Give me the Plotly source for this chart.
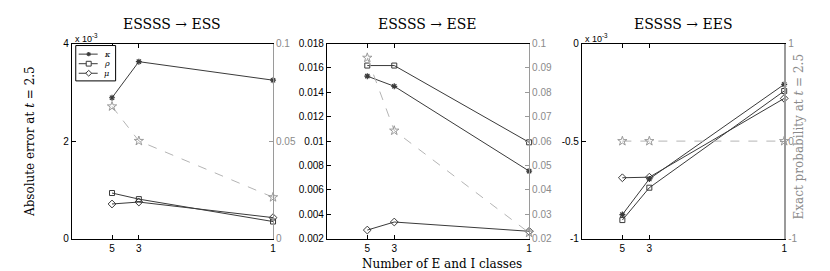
import plotly.graph_objects as go

# ---------------- data ----------------
n_classes = [5, 3, 1]
tick_labels = ["5", "3", "1"]

titles = ["ESSSS → ESS", "ESSSS → ESE", "ESSSS → EES"]
series_names = ["κ", "ρ", "μ"]

kappa_ess = [2.89e-3, 3.63e-3, 3.25e-3]
rho_ess = [0.935e-3, 0.81e-3, 0.35e-3]
mu_ess = [0.71e-3, 0.75e-3, 0.43e-3]
exact_ess = [0.0678, 0.0501, 0.0212]

kappa_ese = [0.01533, 0.0145, 0.00754]
rho_ese = [0.0162, 0.0162, 0.0099]
mu_ese = [0.0027, 0.00336, 0.0026]
exact_ese = [0.0942, 0.0643, 0.0224]

kappa_ees = [-0.877e-3, -0.694e-3, -0.209e-3]
rho_ees = [-0.905e-3, -0.739e-3, -0.243e-3]
mu_ees = [-0.688e-3, -0.685e-3, -0.281e-3]
exact_ees = [0.0, 0.0, 0.0]

# axis settings per panel
left_ranges = [[0, 0.004], [0.002, 0.018], [-0.001, 0.0]]
left_tickvals = [[0, 0.002, 0.004],
                 [0.002, 0.004, 0.006, 0.008, 0.010, 0.012, 0.014, 0.016, 0.018],
                 [-0.001, -0.0005, 0.0]]
left_ticktext = [["0", "2", "4"],
                 ["0.002", "0.004", "0.006", "0.008", "0.01", "0.012", "0.014", "0.016", "0.018"],
                 ["-1", "-0.5", "0"]]
right_ranges = [[0, 0.1], [0.02, 0.1], [-1, 1]]
right_tickvals = [[0, 0.05, 0.1],
                  [0.02, 0.03, 0.04, 0.05, 0.06, 0.07, 0.08, 0.09, 0.1],
                  [-1, 0, 1]]
right_ticktext = [["0", "0.05", "0.1"],
                  ["0.02", "0.03", "0.04", "0.05", "0.06", "0.07", "0.08", "0.09", "0.1"],
                  ["-1", "0", "1"]]

panels = [
    (kappa_ess, rho_ess, mu_ess, exact_ess),
    (kappa_ese, rho_ese, mu_ese, exact_ese),
    (kappa_ees, rho_ees, mu_ees, exact_ees),
]

# ---------------- geometry ----------------
W, H = 830, 271
x_px = [(64, 266), (320, 523), (576, 779)]
y_top, y_bot = 31, 235
ydom = [(H - y_bot) / H, (H - y_top) / H]


def px(x):
    return x / W


def py(y):
    return 1 - y / H


xvals = [1.0 / n for n in n_classes]

LINE = "#3a3a3a"
GRAY = "#9a9a9a"
TICKFONT = dict(family="Liberation Sans, Arial, sans-serif", size=10, color="black")
GTICKFONT = dict(family="Liberation Sans, Arial, sans-serif", size=10, color="#8a8a8a")
SERIF = "DejaVu Serif, Liberation Serif, serif"

fig = go.Figure()
layout = dict(width=W, height=H, autosize=False,
              margin=dict(l=0, r=0, t=0, b=0),
              paper_bgcolor="white", plot_bgcolor="white",
              showlegend=False)

series_style = [
    dict(symbol="asterisk-open", size=5, color=LINE, line=dict(color=LINE, width=1.2)),
    dict(symbol="square-open", size=5, color=LINE, line=dict(color=LINE, width=1)),
    dict(symbol="diamond-open", size=6, color=LINE, line=dict(color=LINE, width=1)),
]

annotations = []
shapes = []
for i, (kap, rho, mu, exact) in enumerate(panels):
    xi = "x" if i == 0 else f"x{i+1}"
    yl = "y" if i == 0 else f"y{2*i+1}"
    yr = f"y{2*i+2}"
    xkey = "xaxis" if i == 0 else f"xaxis{i+1}"
    ylkey = "yaxis" if i == 0 else f"yaxis{2*i+1}"
    yrkey = f"yaxis{2*i+2}"

    # exact probability on right axis (drawn first, behind)
    fig.add_trace(go.Scatter(
        x=xvals, y=exact, xaxis=xi, yaxis=yr, mode="lines+markers",
        line=dict(color="#b4b4b4", width=1, dash="dash"),
        marker=dict(symbol="star-open", size=7, color=GRAY, line=dict(color=GRAY, width=1)),
        showlegend=False, cliponaxis=False, hoverinfo="skip"))

    for name, mk, vals in zip(series_names, series_style, (kap, rho, mu)):
        fig.add_trace(go.Scatter(
            x=xvals, y=vals, xaxis=xi, yaxis=yl, mode="lines+markers",
            name=name, line=dict(color=LINE, width=1),
            marker=mk, showlegend=False, cliponaxis=False))

    x0, x1 = x_px[i]
    layout[xkey] = dict(
        domain=[px(x0), px(x1)], anchor=yl, range=[0, 1],
        tickvals=xvals, ticktext=tick_labels, ticks="inside", ticklen=4,
        tickcolor="black", showline=True, linecolor="black", linewidth=1,
        mirror="ticks", showgrid=False, zeroline=False, tickfont=TICKFONT)
    layout[ylkey] = dict(
        domain=ydom, anchor=xi, range=left_ranges[i],
        tickvals=left_tickvals[i], ticktext=left_ticktext[i],
        ticks="inside", ticklen=4, tickcolor="black",
        showline=True, linecolor="black", linewidth=1,
        showgrid=False, zeroline=False, tickfont=TICKFONT)
    layout[yrkey] = dict(
        overlaying=yl, anchor=xi, side="right", range=right_ranges[i],
        tickvals=right_tickvals[i], ticktext=right_ticktext[i],
        ticks="inside", ticklen=4, tickcolor=GRAY,
        showline=True, linecolor=GRAY, linewidth=(2 if i == 2 else 1),
        showgrid=False, zeroline=False, tickfont=GTICKFONT)

    # panel title
    annotations.append(dict(
        text=titles[i], x=px((x0 + x1) / 2), y=py(10), xref="paper", yref="paper",
        xanchor="center", yanchor="middle", showarrow=False,
        font=dict(family=SERIF, size=14, color="black")))

# exponent labels
for xp in (65, 577):
    annotations.append(dict(
        text="x 10<sup>-3</sup>", x=px(xp), y=py(25), xref="paper", yref="paper",
        xanchor="left", yanchor="middle", showarrow=False,
        font=dict(family="Liberation Sans, Arial, sans-serif", size=9, color="black")))

# axis titles
annotations.append(dict(
    text="Absolute error at <i>t</i> = 2.5", x=px(22), y=py(133),
    xref="paper", yref="paper", xanchor="center", yanchor="middle",
    textangle=-90, showarrow=False, font=dict(family=SERIF, size=12, color="black")))
annotations.append(dict(
    text="Exact probability at <i>t</i> = 2.5", x=px(794), y=py(128),
    xref="paper", yref="paper", xanchor="center", yanchor="middle",
    textangle=-90, showarrow=False, font=dict(family=SERIF, size=12, color="#8a8a8a")))
annotations.append(dict(
    text="Number of E and I classes", x=px(436), y=py(262),
    xref="paper", yref="paper", xanchor="center", yanchor="middle",
    showarrow=False, font=dict(family=SERIF, size=12, color="black")))

# ---------------- legend (drawn as decoration in panel 1) ----------------
LBOX = (68, 33, 108, 70)
shapes.append(dict(type="rect", xref="paper", yref="paper",
                   x0=px(LBOX[0]), x1=px(LBOX[2]), y0=py(LBOX[3]), y1=py(LBOX[1]),
                   line=dict(color="black", width=1), fillcolor="white", layer="above"))
rows = [42, 52, 62]
cx = 81
for k, (name, ry) in enumerate(zip(series_names, rows)):
    shapes.append(dict(type="line", xref="paper", yref="paper",
                       x0=px(71), x1=px(90), y0=py(ry), y1=py(ry),
                       line=dict(color=LINE, width=1), layer="above"))
    if k == 0:
        for dx, dy in ((2.2, 0), (0, 2.2), (1.6, 1.6), (1.6, -1.6)):
            shapes.append(dict(type="line", xref="paper", yref="paper",
                               x0=px(cx - dx), x1=px(cx + dx), y0=py(ry - dy), y1=py(ry + dy),
                               line=dict(color=LINE, width=1.2), layer="above"))
    elif k == 1:
        shapes.append(dict(type="rect", xref="paper", yref="paper",
                           x0=px(cx - 2.5), x1=px(cx + 2.5), y0=py(ry + 2.5), y1=py(ry - 2.5),
                           line=dict(color=LINE, width=1), fillcolor="white", layer="above"))
    else:
        d = 3
        path = (f"M {px(cx)} {py(ry - d)} L {px(cx + d)} {py(ry)} "
                f"L {px(cx)} {py(ry + d)} L {px(cx - d)} {py(ry)} Z")
        shapes.append(dict(type="path", xref="paper", yref="paper", path=path,
                           line=dict(color=LINE, width=1), fillcolor="white", layer="above"))
    annotations.append(dict(
        text=f"<i>{name}</i>", x=px(95), y=py(ry), xref="paper", yref="paper",
        xanchor="left", yanchor="middle", showarrow=False, borderpad=0,
        font=dict(family=SERIF, size=8, color="black")))

layout["annotations"] = annotations
layout["shapes"] = shapes

fig.update_layout(**layout)
fig.write_html("out.html")
